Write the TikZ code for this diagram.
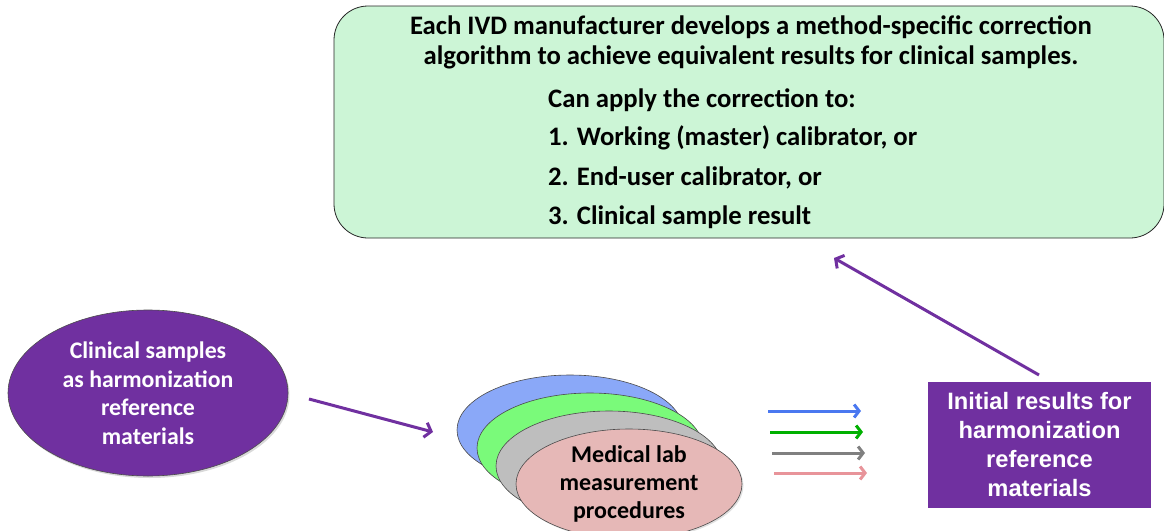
\documentclass[tikz,border=0pt]{standalone}
\usepackage{fontspec}
\setmainfont{Carlito}
\newfontfamily\arialfont{Liberation Sans}
\usetikzlibrary{shapes.geometric,arrows.meta,shadows}

\definecolor{notegreen}{HTML}{CCF5D6}
\definecolor{violet}{HTML}{7030A0}
\definecolor{mpblue}{HTML}{8AA8F8}
\definecolor{mpgreen}{HTML}{7AFA7A}
\definecolor{mpgray}{HTML}{BEBEBE}
\definecolor{mppink}{HTML}{E6B8B7}
\definecolor{arblue}{HTML}{4A78F0}
\definecolor{argreen}{HTML}{00B000}
\definecolor{argray}{HTML}{808080}
\definecolor{arpink}{HTML}{E8949A}

\tikzset{
  notetext/.style={font=\bfseries\fontsize{26.7}{30}\selectfont, inner sep=0pt},
  procell/.style={ellipse, draw=black!70, line width=0.6pt,
    minimum width=226pt, minimum height=110pt, inner sep=0pt,
    drop shadow={shadow xshift=1.5pt, shadow yshift=-1.5pt, opacity=0.25}},
  flow/.style={draw=violet, line width=3pt,
    -{Straight Barb[length=6pt,width=15pt,line width=3pt]}},
  outarrow/.style={line width=3pt,
    -{Straight Barb[length=5pt,width=13pt,line width=3pt]}}
}

\begin{document}
\begin{tikzpicture}[x=1pt,y=-1pt]
\useasboundingbox (0,0) rectangle (1164,530);

% correction note
\node (note) [draw=black!85, line width=0.8pt, fill=notegreen,
  rounded corners=34pt, minimum width=830pt, minimum height=232pt,
  inner sep=0pt] at (749,122) {};
\node [notetext, align=center] at (751,42)
  {Each IVD manufacturer develops a method-specific correction\\
   algorithm to achieve equivalent results for clinical samples.};
\node (l1) [notetext, anchor=west] at (548,100) {Can apply the correction to:};
\node (l2) [notetext, anchor=west] at (548,138) {1. Working (master) calibrator, or};
\node (l3) [notetext, anchor=west] at (548,178) {2. End-user calibrator, or};
\node (l4) [notetext, anchor=west] at (548,217) {3. Clinical sample result};

% clinical samples
\node (samples) [ellipse, draw=black!70, line width=0.6pt, fill=violet,
  minimum width=280pt, minimum height=166pt, inner sep=0pt,
  drop shadow={shadow xshift=1.5pt, shadow yshift=-2pt, opacity=0.3},
  text=white, align=center,
  font=\bfseries\fontsize{23.8}{28.5}\selectfont] at (148,393)
  {Clinical samples\\as harmonization\\reference\\materials};

% stacked measurement procedures
\node (mpblue) [procell, fill=mpblue] at (570,430) {};
\node (mpgreen) [procell, fill=mpgreen] at (590,448) {};
\node (mpgray) [procell, fill=mpgray] at (609,466) {};
\node (mppink) [procell, fill=mppink, align=center,
  font=\bfseries\fontsize{24}{28}\selectfont] at (629,484)
  {Medical lab\\measurement\\procedures};

% results box
\node (results) [fill=violet, minimum width=223pt, minimum height=126pt,
  inner sep=0pt, text=white, align=center,
  font=\arialfont\bfseries\fontsize{23.7}{29}\selectfont] at (1039.5,445)
  {Initial results for\\harmonization\\reference\\materials};

% connectors
\coordinate (s1) at (309,399);
\coordinate (s2) at (433,432);
\draw [flow] (s1) -- (s2);

\coordinate (r1) at (1039,375);
\coordinate (r2) at (834,258);
\draw [flow] (r1) -- (r2);

\coordinate (ab1) at (768,411);
\coordinate (ab2) at (861,411);
\coordinate (ag1) at (770,432);
\coordinate (ag2) at (863,432);
\coordinate (ay1) at (772,453);
\coordinate (ay2) at (865,453);
\coordinate (ap1) at (774,473);
\coordinate (ap2) at (867,473);
\draw [outarrow, arblue] (ab1) -- (ab2);
\draw [outarrow, argreen] (ag1) -- (ag2);
\draw [outarrow, argray] (ay1) -- (ay2);
\draw [outarrow, arpink] (ap1) -- (ap2);
\end{tikzpicture}
\end{document}
